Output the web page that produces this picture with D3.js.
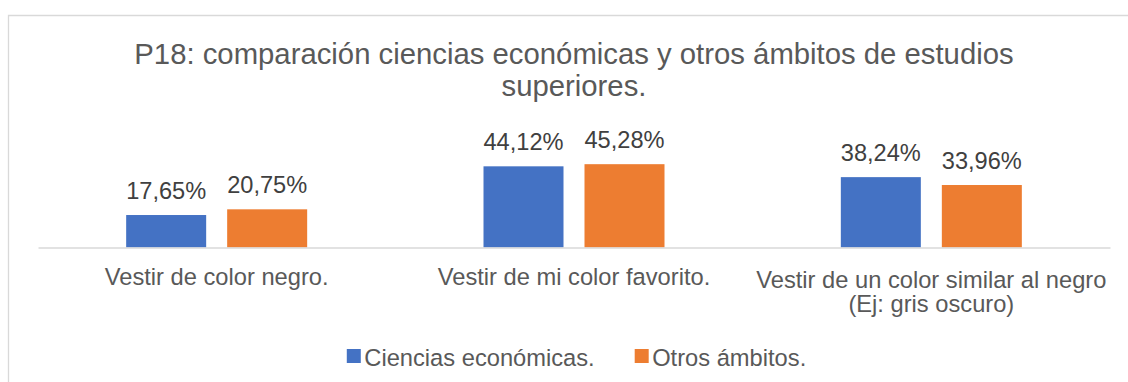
<!DOCTYPE html>
<html>
<head>
<meta charset="utf-8">
<script src="https://cdn.jsdelivr.net/npm/d3@7"></script>
<style>
  html, body { margin: 0; padding: 0; background: #fff; }
  svg { display: block; font-family: "Liberation Sans", Arial, sans-serif; }
</style>
</head>
<body>
<svg id="chart" width="1128" height="382"></svg>
<script>
// chart data
var categories = [
    ["Vestir de color negro."],
    ["Vestir de mi color favorito."],
    ["Vestir de un color similar al negro", "(Ej: gris oscuro)"]
];
var seriesNames = ["Ciencias económicas.", "Otros ámbitos."];
var ciencias = [17.65, 44.12, 38.24];
var otros = [20.75, 45.28, 33.96];
var seriesColors = ["#4472C4", "#ED7D31"];
var titleLines = ["P18: comparación ciencias económicas y otros ámbitos de estudios", "superiores."];

var W = 1128, H = 382;
var plot = { left: 38, right: 1110, top: 155.5, bottom: 247.5 };
var textColor = "#595959";

var svg = d3.select("#chart");

// outer frame (only top + left visible)
svg.append("path")
    .attr("d", "M8.5," + (H + 5) + "V15.5H" + (W + 5))
    .attr("fill", "none")
    .attr("stroke", "#D9D9D9")
    .attr("stroke-width", 1.3);

// title
svg.append("g").selectAll("text")
    .data(titleLines)
    .enter().append("text")
    .attr("x", (plot.left + plot.right) / 2)
    .attr("y", function(d, i) { return 63.5 + i * 32; })
    .attr("text-anchor", "middle")
    .attr("fill", textColor)
    .style("font-size", "29.3px")
    .text(function(d) { return d; });

var keys = categories.map(function(d, i) { return i; });
var x0 = d3.scaleBand().domain(keys).range([plot.left, plot.right]).padding(0);
var bw = 80, gap = 21;
var x1 = d3.scaleBand().domain([0, 1])
    .range([x0.bandwidth() / 2 - (bw + gap / 2), x0.bandwidth() / 2 + (bw + gap / 2)])
    .paddingInner(gap / (bw + gap));
var y = d3.scaleLinear().domain([0, 50]).range([plot.bottom, plot.top]);

var rows = keys.map(function(i) { return [ciencias[i], otros[i]]; });

var groups = svg.append("g").selectAll("g")
    .data(rows)
    .enter().append("g")
    .attr("transform", function(d, i) { return "translate(" + x0(i) + ",0)"; });

groups.selectAll("rect")
    .data(function(d) { return d; })
    .enter().append("rect")
    .attr("x", function(d, j) { return x1(j); })
    .attr("width", x1.bandwidth())
    .attr("y", function(d) { return y(d); })
    .attr("height", function(d) { return y(0) - y(d); })
    .attr("fill", function(d, j) { return seriesColors[j]; });

groups.selectAll("text")
    .data(function(d) { return d; })
    .enter().append("text")
    .attr("x", function(d, j) { return x1(j) + x1.bandwidth() / 2; })
    .attr("y", function(d) { return y(d) - 16.5; })
    .attr("text-anchor", "middle")
    .attr("fill", "#404040")
    .style("font-size", "23.6px")
    .text(function(d) { return d3.format(".2f")(d).replace(".", ",") + "%"; });

// category axis
var axis = svg.append("g")
    .attr("transform", "translate(0," + plot.bottom + ")")
    .call(d3.axisBottom(x0).tickSize(0).tickSizeOuter(0).tickFormat(""));
axis.select(".domain").attr("stroke", "#D9D9D9").attr("stroke-width", 1.3);

var labels = svg.append("g").selectAll("text")
    .data(categories)
    .enter().append("text")
    .attr("text-anchor", "middle")
    .attr("fill", textColor)
    .style("font-size", "23.7px")
    .attr("transform", function(d, i) {
        var yy = d.length > 1 ? 288 : 284.5;
        return "translate(" + (x0(i) + x0.bandwidth() / 2) + "," + yy + ")";
    });
labels.selectAll("tspan")
    .data(function(d) { return d; })
    .enter().append("tspan")
    .attr("x", 0)
    .attr("y", function(d, i) { return i * 23.5; })
    .text(function(d) { return d; });

// legend
var legend = svg.append("g");
var lx = 0;
seriesNames.forEach(function(name, i) {
    var item = legend.append("g").attr("transform", "translate(" + lx + ",0)");
    item.append("rect").attr("x", 0).attr("y", 349).attr("width", 14).attr("height", 14)
        .attr("fill", seriesColors[i]);
    var t = item.append("text").attr("x", 17.5).attr("y", 366)
        .attr("fill", textColor)
        .style("font-size", "23.7px")
        .text(name);
    lx += 17.5 + t.node().getComputedTextLength() + 40;
});
var legendW = lx - 40;
legend.attr("transform", "translate(" + (576.5 - legendW / 2) + ",0)");
</script>
</body>
</html>
